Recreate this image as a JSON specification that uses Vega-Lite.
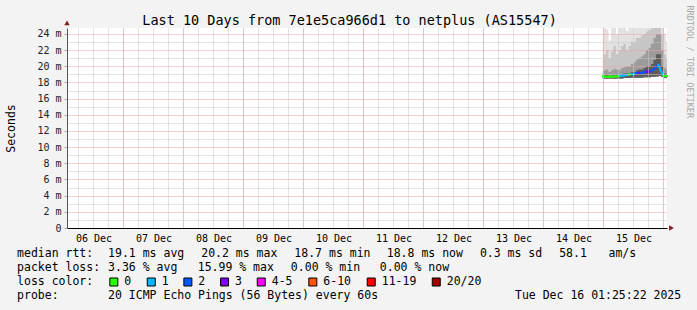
{
  "$schema": "https://vega.github.io/schema/vega-lite/v6.json",
  "background": "#f3f3f3",
  "padding": {"left": 5, "top": 5, "right": 10, "bottom": 10},
  "config": {"view": {"stroke": null}, "font": "DejaVu Sans Mono"},
  "datasets": {
    "smoke": [
      {"t": "2025-12-14T23:45:00Z", "median": 18.75, "loss": "0", "lo": 18.5, "p60": 18.9, "p75": 19.4, "p90": 21.0, "max": 23.5},
      {"t": "2025-12-15T00:00:00Z", "median": 18.75, "loss": "0", "lo": 18.5, "p60": 18.9, "p75": 19.5, "p90": 21.5, "max": 24.9},
      {"t": "2025-12-15T01:00:00Z", "median": 18.7, "loss": "0", "lo": 18.45, "p60": 18.9, "p75": 19.6, "p90": 22.0, "max": 24.6},
      {"t": "2025-12-15T02:00:00Z", "median": 18.7, "loss": "0", "lo": 18.5, "p60": 18.85, "p75": 19.3, "p90": 21.0, "max": 23.2},
      {"t": "2025-12-15T03:00:00Z", "median": 18.75, "loss": "0", "lo": 18.5, "p60": 18.9, "p75": 19.5, "p90": 21.8, "max": 25.0},
      {"t": "2025-12-15T04:00:00Z", "median": 18.7, "loss": "0", "lo": 18.45, "p60": 18.9, "p75": 19.7, "p90": 22.5, "max": 24.8},
      {"t": "2025-12-15T05:00:00Z", "median": 18.75, "loss": "0", "lo": 18.5, "p60": 18.95, "p75": 19.6, "p90": 21.5, "max": 24.0},
      {"t": "2025-12-15T06:00:00Z", "median": 18.75, "loss": "0", "lo": 18.5, "p60": 18.9, "p75": 19.5, "p90": 22.0, "max": 25.0},
      {"t": "2025-12-15T07:00:00Z", "median": 18.85, "loss": "1", "lo": 18.5, "p60": 19.05, "p75": 19.8, "p90": 22.5, "max": 24.8},
      {"t": "2025-12-15T08:00:00Z", "median": 18.85, "loss": "1", "lo": 18.55, "p60": 19.1, "p75": 19.9, "p90": 22.8, "max": 25.0},
      {"t": "2025-12-15T09:00:00Z", "median": 18.9, "loss": "1", "lo": 18.55, "p60": 19.1, "p75": 20.0, "p90": 22.0, "max": 24.4},
      {"t": "2025-12-15T10:00:00Z", "median": 18.95, "loss": "0", "lo": 18.55, "p60": 19.15, "p75": 20.0, "p90": 22.5, "max": 25.0},
      {"t": "2025-12-15T11:00:00Z", "median": 19.05, "loss": "1", "lo": 18.6, "p60": 19.3, "p75": 20.3, "p90": 23.0, "max": 25.0},
      {"t": "2025-12-15T12:00:00Z", "median": 19.0, "loss": "1", "lo": 18.6, "p60": 19.3, "p75": 20.5, "p90": 23.0, "max": 24.7},
      {"t": "2025-12-15T13:00:00Z", "median": 19.15, "loss": "2", "lo": 18.6, "p60": 19.5, "p75": 20.8, "p90": 23.5, "max": 25.0},
      {"t": "2025-12-15T14:00:00Z", "median": 19.2, "loss": "3", "lo": 18.6, "p60": 19.6, "p75": 21.0, "p90": 23.5, "max": 25.0},
      {"t": "2025-12-15T15:00:00Z", "median": 19.15, "loss": "2", "lo": 18.6, "p60": 19.6, "p75": 21.2, "p90": 23.8, "max": 25.0},
      {"t": "2025-12-15T16:00:00Z", "median": 19.25, "loss": "2", "lo": 18.65, "p60": 19.8, "p75": 21.5, "p90": 24.0, "max": 25.0},
      {"t": "2025-12-15T17:00:00Z", "median": 19.35, "loss": "3", "lo": 18.65, "p60": 20.0, "p75": 22.0, "p90": 24.3, "max": 25.0},
      {"t": "2025-12-15T18:00:00Z", "median": 19.3, "loss": "3", "lo": 18.65, "p60": 20.0, "p75": 22.3, "p90": 24.5, "max": 25.0},
      {"t": "2025-12-15T19:00:00Z", "median": 19.4, "loss": "2", "lo": 18.7, "p60": 20.3, "p75": 22.8, "p90": 25.0, "max": 25.0},
      {"t": "2025-12-15T20:00:00Z", "median": 19.6, "loss": "2", "lo": 18.7, "p60": 20.8, "p75": 23.5, "p90": 25.0, "max": 25.0},
      {"t": "2025-12-15T21:00:00Z", "median": 19.9, "loss": "2", "lo": 18.75, "p60": 21.5, "p75": 24.0, "p90": 25.0, "max": 25.0},
      {"t": "2025-12-15T22:00:00Z", "median": 20.2, "loss": "1", "lo": 18.8, "p60": 21.5, "p75": 24.0, "p90": 25.0, "max": 25.0},
      {"t": "2025-12-15T23:00:00Z", "median": 19.4, "loss": "1", "lo": 18.7, "p60": 20.0, "p75": 22.0, "p90": 24.0, "max": 25.0},
      {"t": "2025-12-16T00:00:00Z", "median": 18.85, "loss": "0", "lo": 18.6, "p60": 19.1, "p75": 19.8, "p90": 21.5, "max": 24.0},
      {"t": "2025-12-16T01:00:00Z", "median": 18.8, "loss": "0", "lo": 18.55, "p60": 19.0, "p75": 19.6, "p90": 21.0, "max": 23.0},
      {"t": "2025-12-16T01:25:00Z", "median": 18.8, "loss": "0", "lo": 18.55, "p60": 19.0, "p75": 19.6, "p90": 21.0, "max": 23.0}
    ],
    "legendText": [
      {"line": 1, "col": 0, "text": "median rtt:"},
      {"line": 1, "col": 13.1, "text": "19.1 ms avg"},
      {"line": 1, "col": 26.5, "text": "20.2 ms max"},
      {"line": 1, "col": 39.9, "text": "18.7 ms min"},
      {"line": 1, "col": 53.2, "text": "18.8 ms now"},
      {"line": 1, "col": 66.6, "text": "0.3 ms sd"},
      {"line": 1, "col": 78.0, "text": "58.1"},
      {"line": 1, "col": 85.1, "text": "am/s"},
      {"line": 2, "col": 0, "text": "packet loss:"},
      {"line": 2, "col": 13.1, "text": "3.36 % avg"},
      {"line": 2, "col": 26.0, "text": "15.99 % max"},
      {"line": 2, "col": 39.4, "text": "0.00 % min"},
      {"line": 2, "col": 52.2, "text": "0.00 % now"},
      {"line": 3, "col": 0, "text": "loss color:"},
      {"line": 4, "col": 0, "text": "probe:"},
      {"line": 4, "col": 13.1, "text": "20 ICMP Echo Pings (56 Bytes) every 60s"},
      {"line": 4, "col": 71.65, "text": "Tue Dec 16 01:25:22 2025"}
    ],
    "lossClasses": [
      {"loss": "0", "line": 3, "col": 13.93},
      {"loss": "1", "line": 3, "col": 19.31},
      {"loss": "2", "line": 3, "col": 24.58},
      {"loss": "3", "line": 3, "col": 29.86},
      {"loss": "4-5", "line": 3, "col": 35.14},
      {"loss": "6-10", "line": 3, "col": 42.56},
      {"loss": "11-19", "line": 3, "col": 50.96},
      {"loss": "20/20", "line": 3, "col": 60.32}
    ]
  },
  "vconcat": [
    {
      "width": 600,
      "height": 200,
      "view": {"fill": "#ffffff", "stroke": null},
      "data": {"name": "smoke"},
      "resolve": {"axis": {"x": "independent", "y": "independent"}},
      "layer": [
        {
          "mark": {"type": "area", "interpolate": "step-after", "clip": true, "color": "#e2e2e2"},
          "encoding": {
            "x": {"field": "t", "type": "temporal",
              "scale": {"type": "utc", "domain": [1764984322000, 1765848322000]},
              "axis": {"orient": "bottom", "labels": false, "ticks": false, "domain": false, "title": null, "grid": true, "gridColor": "#c8c8c8", "gridDash": [1, 1], "gridWidth": 1, "zindex": 1,
                "values": [1765000800000, 1765022400000, 1765044000000, 1765065600000, 1765087200000, 1765108800000, 1765130400000, 1765152000000, 1765173600000, 1765195200000, 1765216800000, 1765238400000, 1765260000000, 1765281600000, 1765303200000, 1765324800000, 1765346400000, 1765368000000, 1765389600000, 1765411200000, 1765432800000, 1765454400000, 1765476000000, 1765497600000, 1765519200000, 1765540800000, 1765562400000, 1765584000000, 1765605600000, 1765627200000, 1765648800000, 1765670400000, 1765692000000, 1765713600000, 1765735200000, 1765756800000, 1765778400000, 1765800000000, 1765821600000, 1765843200000]}},
            "y": {"field": "max", "type": "quantitative",
              "scale": {"domain": [0, 24.74], "nice": false, "zero": true},
              "axis": {"orient": "left", "labels": false, "ticks": false, "domain": false, "title": null, "grid": true, "gridColor": "#c8c8c8", "gridDash": [1, 1], "values": [1, 3, 5, 7, 9, 11, 13, 15, 17, 19, 21, 23], "zindex": 1}},
            "y2": {"field": "lo"}
          }
        },
        {
          "mark": {"type": "area", "interpolate": "step-after", "clip": true, "color": "#c6c6c6"},
          "encoding": {
            "x": {"field": "t", "type": "temporal",
              "axis": {"orient": "bottom", "labels": false, "ticks": false, "domain": false, "title": null, "grid": true, "gridColor": "#f0a0a0", "gridDash": [1, 1], "gridWidth": 1, "zindex": 1,
                "values": [1765065600000, 1765152000000, 1765238400000, 1765324800000, 1765411200000, 1765497600000, 1765584000000, 1765670400000, 1765756800000, 1765843200000]}},
            "y": {"field": "p90", "type": "quantitative",
              "axis": {"orient": "left", "values": [0, 2, 4, 6, 8, 10, 12, 14, 16, 18, 20, 22, 24], "labelExpr": "datum.value == 0 ? '0' : datum.value + ' m'", "labelFont": "DejaVu Sans Mono", "labelFontSize": 10, "labelColor": "#222222", "labelPadding": 3, "ticks": true, "tickSize": 3, "tickColor": "#aaaaaa", "domain": true, "domainColor": "#555555", "grid": true, "gridColor": "#f0a0a0", "gridDash": [1, 1], "title": "Seconds", "titleFont": "DejaVu Sans Mono", "titleFontSize": 11.5, "titleFontWeight": "normal", "titleColor": "#000000", "titlePadding": 20, "zindex": 1}},
            "y2": {"field": "lo"}
          }
        },
        {
          "mark": {"type": "area", "interpolate": "step-after", "clip": true, "color": "#9c9c9c"},
          "encoding": {
            "x": {"field": "t", "type": "temporal",
              "axis": {"orient": "bottom",
                "values": [1765022400000, 1765108800000, 1765195200000, 1765281600000, 1765368000000, 1765454400000, 1765540800000, 1765627200000, 1765713600000, 1765800000000],
                "labelExpr": "utcFormat(datum.value, '%d %b')", "labelFont": "DejaVu Sans Mono", "labelFontSize": 10, "labelColor": "#000000", "labelPadding": 5, "labelFlush": false, "labelOverlap": false, "ticks": false, "domain": true, "domainColor": "#000000", "grid": false, "title": null, "zindex": 1}},
            "y": {"field": "p75", "type": "quantitative",
              "axis": {"orient": "right", "labels": false, "ticks": false, "domain": false, "grid": false, "title": "RRDTOOL / TOBI OETIKER", "titleAngle": 90, "titleAlign": "left", "titleBaseline": "middle", "titleX": 22, "titleY": -23, "titleFont": "DejaVu Sans Mono", "titleFontSize": 8.5, "titleFontWeight": "normal", "titleColor": "#a8a8a8"}},
            "y2": {"field": "lo"}
          }
        },
        {
          "mark": {"type": "area", "interpolate": "step-after", "clip": true, "color": "#5c5c5c"},
          "encoding": {
            "x": {"field": "t", "type": "temporal",
              "axis": {"orient": "top", "labels": false, "ticks": false, "domain": false, "grid": false, "title": "Last 10 Days from 7e1e5ca966d1 to netplus (AS15547)", "titleX": 282, "titleY": -8, "titleAlign": "center", "titleBaseline": "middle", "titleAngle": 0, "titleFont": "DejaVu Sans Mono", "titleFontSize": 13.5, "titleFontWeight": "normal", "titleColor": "#000000"}},
            "y": {"field": "p60", "type": "quantitative", "axis": null},
            "y2": {"field": "lo"}
          }
        },
        {
          "transform": [
            {"window": [{"op": "lead", "field": "t", "as": "t_next"}, {"op": "lead", "field": "median", "as": "median_next"}], "sort": [{"field": "t"}]},
            {"filter": "datum.t_next != null"}
          ],
          "mark": {"type": "rule", "strokeWidth": 2, "strokeCap": "square"},
          "encoding": {
            "x": {"field": "t", "type": "temporal", "axis": null},
            "x2": {"field": "t_next"},
            "y": {"field": "median", "type": "quantitative", "axis": null},
            "y2": {"field": "median_next"},
            "color": {"field": "loss", "type": "nominal",
              "scale": {"domain": ["0", "1", "2", "3", "4-5", "6-10", "11-19", "20/20"], "range": ["#26ff00", "#00b8ff", "#0059ff", "#7e00ff", "#ff00ff", "#ff5500", "#ff0000", "#a10000"]},
              "legend": null}
          }
        },
        {
          "data": {"values": [{}]},
          "mark": {"type": "point", "shape": "triangle-right", "filled": true, "size": 30, "color": "#7f1f1f", "opacity": 1, "clip": false},
          "encoding": {
            "x": {"datum": 1765854802000, "type": "temporal", "axis": null},
            "y": {"datum": 0, "type": "quantitative", "axis": null}
          }
        },
        {
          "data": {"values": [{}]},
          "mark": {"type": "point", "shape": "triangle-up", "filled": true, "size": 30, "color": "#7f1f1f", "opacity": 1, "clip": false},
          "encoding": {
            "x": {"datum": 1764984322000, "type": "temporal", "axis": null},
            "y": {"datum": 25.36, "type": "quantitative", "axis": null}
          }
        }
      ]
    },
    {
      "width": 600,
      "height": 56,
      "view": {"stroke": null},
      "layer": [
        {
          "data": {"name": "legendText"},
          "mark": {"type": "text", "align": "left", "baseline": "middle", "font": "DejaVu Sans Mono", "fontSize": 11.5, "color": "#000000"},
          "encoding": {
            "x": {"field": "col", "type": "quantitative", "scale": {"domain": [7.19, 93.52], "nice": false, "zero": false}, "axis": null},
            "y": {"field": "line", "type": "quantitative", "scale": {"domain": [0.5, 4.5], "reverse": true, "nice": false, "zero": false}, "axis": null},
            "text": {"field": "text"}
          }
        },
        {
          "data": {"name": "lossClasses"},
          "mark": {"type": "point", "shape": "square", "filled": true, "size": 64, "stroke": "#000000", "strokeWidth": 1, "opacity": 1},
          "encoding": {
            "x": {"field": "col", "type": "quantitative", "axis": null},
            "y": {"field": "line", "type": "quantitative", "axis": null},
            "fill": {"field": "loss", "type": "nominal",
              "scale": {"domain": ["0", "1", "2", "3", "4-5", "6-10", "11-19", "20/20"], "range": ["#26ff00", "#00b8ff", "#0059ff", "#7e00ff", "#ff00ff", "#ff5500", "#ff0000", "#a10000"]},
              "legend": null}
          }
        },
        {
          "data": {"name": "lossClasses"},
          "mark": {"type": "text", "align": "left", "baseline": "middle", "dx": 10.5, "font": "DejaVu Sans Mono", "fontSize": 11.5, "color": "#000000"},
          "encoding": {
            "x": {"field": "col", "type": "quantitative", "axis": null},
            "y": {"field": "line", "type": "quantitative", "axis": null},
            "text": {"field": "loss"}
          }
        }
      ]
    }
  ],
  "spacing": 4
}
